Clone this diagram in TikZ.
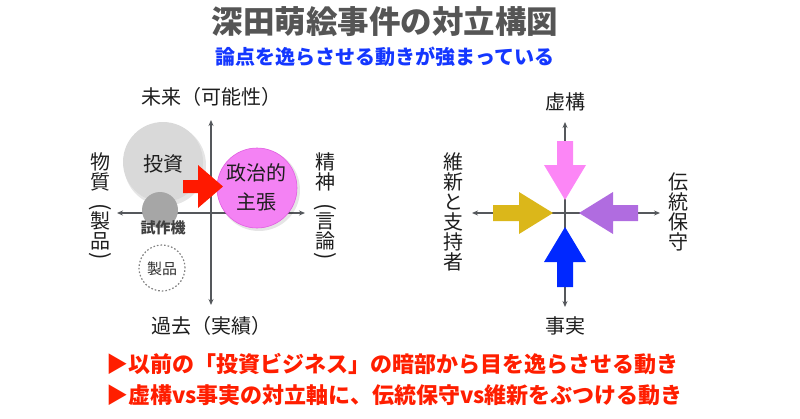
\documentclass[tikz,border=0pt]{standalone}
\usepackage{fontspec}
\setmainfont{Noto Sans CJK JP}
\usetikzlibrary{arrows.meta}
\definecolor{titlegray}{RGB}{85,85,85}
\definecolor{subblue}{RGB}{20,55,255}
\definecolor{noteRed}{RGB}{255,30,0}
\definecolor{axisgray}{RGB}{85,88,92}
\definecolor{lgray}{RGB}{217,217,217}
\definecolor{dgray}{RGB}{166,166,166}
\definecolor{pinkc}{RGB}{244,130,244}
\definecolor{pinkedge}{RGB}{225,95,225}
\definecolor{arrowRed}{RGB}{255,25,0}
\definecolor{arrowPink}{RGB}{252,134,246}
\definecolor{arrowBlue}{RGB}{0,40,255}
\definecolor{arrowGold}{RGB}{219,183,26}
\definecolor{arrowPurple}{RGB}{176,108,224}
\definecolor{labeltext}{RGB}{30,30,30}
\tikzset{
  axisline/.style={draw=axisgray, line width=1.3pt, {Stealth[length=6pt,width=5pt]}-{Stealth[length=6pt,width=5pt]}},
  lbl/.style={font=\fontsize{20}{24}\selectfont, text=labeltext, inner sep=0pt},
  vch/.style={font=\fontsize{20}{24}\selectfont, text=labeltext, inner sep=0pt},
  vparen/.style={font=\fontsize{22}{24}\selectfont, text=labeltext, inner sep=0pt, rotate=-90},
  smalllbl/.style={font=\fontsize{15}{18}\selectfont\bfseries, text=black!75, inner sep=0pt},
  notetext/.style={font=\fontsize{22}{26}\selectfont\bfseries, text=noteRed, inner sep=0pt, anchor=west},
}
\begin{document}
\begin{tikzpicture}[x=1pt,y=-1pt]
\useasboundingbox (0,0) rectangle (800,418);
% titles
\node[font=\fontsize{31.5}{36}\selectfont\bfseries, text=titlegray, inner sep=0pt] (title) at (385,22) {深田萌絵事件の対立構図};
\node[font=\fontsize{20}{24}\selectfont\bfseries, text=subblue, inner sep=0pt] (subtitle) at (385,57) {論点を逸らさせる動きが強まっている};

% ===== left diagram =====
\coordinate (LT) at (211,120);
\coordinate (LB) at (211,305);
\coordinate (LL) at (117,213);
\coordinate (LR) at (305,213);
\draw[axisline] (LT) -- (LB);
\draw[axisline] (LL) -- (LR);

\fill[black, opacity=0.10] (165,165) circle (41);
\node[circle, fill=lgray, minimum size=80pt, inner sep=0pt] (investc) at (163,162) {};
\node[lbl] (invest) at (163,164) {投資};
\node[circle, fill=dgray, minimum size=36pt, inner sep=0pt] (protoc) at (160,210) {};
\node[smalllbl] (proto) at (163,228) {試作機};
\node[circle, draw=gray, dash pattern=on 1.6pt off 2pt, line width=1.2pt, minimum size=46pt, inner sep=0pt] (productc) at (162,268) {};
\node[smalllbl, font=\fontsize{15}{18}\selectfont, text=black!80] (product) at (162,269) {製品};

\fill[black, opacity=0.10] (259,190) circle (41);
\node[circle, fill=pinkc, draw=pinkedge, line width=0.6pt, minimum size=80pt, inner sep=0pt] (politicsc) at (257,188) {};
\node[lbl, align=center, font=\fontsize{20}{29}\selectfont] (politics) at (256,187) {政治的\\主張};

\fill[arrowRed] (183,180) -- (198,180) -- (198,165) -- (223,186.5) -- (198,208) -- (198,193) -- (183,193) -- cycle;

\node[lbl] (future) at (211,97) {未来（可能性）};
\node[lbl] (past) at (211,326) {過去（実績）};
% left vertical label
\node[vch] (matter1) at (100,162) {物};
\node[vch] (matter2) at (100,182) {質};
\node[vparen] (matter3) at (100,207) {(};
\node[vch] (matter4) at (100,221) {製};
\node[vch] (matter5) at (100,241) {品};
\node[vparen] (matter6) at (100,256) {)};
% right vertical label
\node[vch] (spirit1) at (325,162) {精};
\node[vch] (spirit2) at (325,182) {神};
\node[vparen] (spirit3) at (325,207) {(};
\node[vch] (spirit4) at (325,221) {言};
\node[vch] (spirit5) at (325,241) {論};
\node[vparen] (spirit6) at (325,256) {)};

% ===== right diagram =====
\coordinate (RT) at (565,122);
\coordinate (RB) at (565,307);
\coordinate (RL) at (472,213);
\coordinate (RR) at (660,213);
\draw[axisline] (RT) -- (RB);
\draw[axisline] (RL) -- (RR);

\fill[arrowPink] (557,141) -- (573,141) -- (573,165) -- (586,165) -- (565,200) -- (544,165) -- (557,165) -- cycle;
\fill[arrowBlue] (557,287) -- (573,287) -- (573,262) -- (586,262) -- (565,227) -- (544,262) -- (557,262) -- cycle;
\fill[arrowGold] (493,205) -- (519,205) -- (519,192) -- (553,213) -- (519,234) -- (519,221) -- (493,221) -- cycle;
\fill[arrowPurple] (638,205) -- (613,205) -- (613,192) -- (579,213) -- (613,234) -- (613,221) -- (638,221) -- cycle;

\node[lbl] (fiction) at (565,102) {虚構};
\node[lbl] (fact) at (565,326) {事実};
\foreach \c [count=\i] in {維,新,と,支,持,者}
  \node[vch] (ishin\i) at (453,142+20*\i) {\c};
\foreach \c [count=\i] in {伝,統,保,守}
  \node[vch] (trad\i) at (678,162+20*\i) {\c};

% ===== notes =====
\node[notetext] (note1) at (106,364) {▶以前の「投資ビジネス」の暗部から目を逸らさせる動き};
\node[notetext] (note2) at (106,395) {▶虚構vs事実の対立軸に、伝統保守vs維新をぶつける動き};
\end{tikzpicture}
\end{document}
